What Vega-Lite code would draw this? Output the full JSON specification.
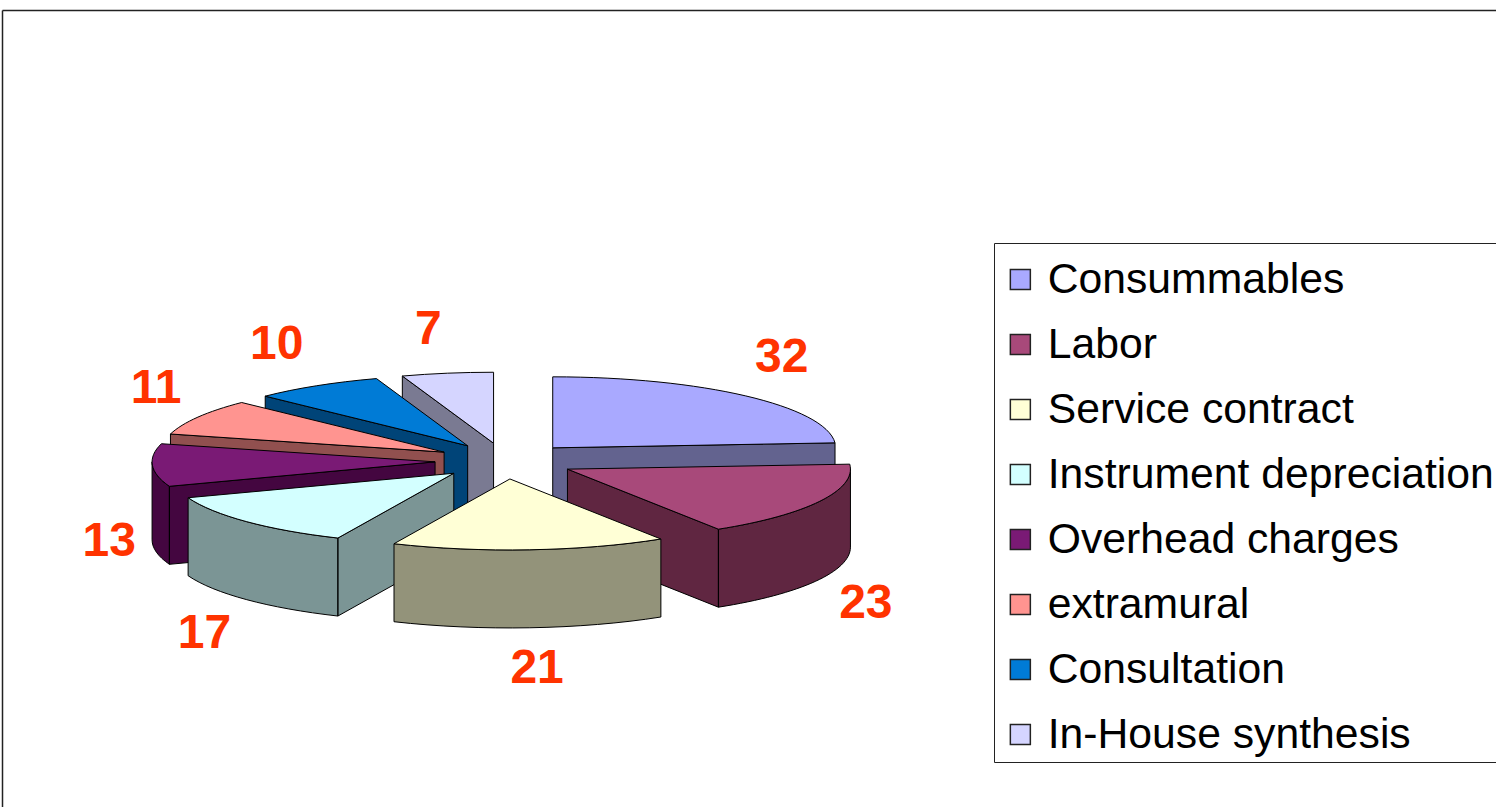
{
"$schema":"https://vega.github.io/schema/vega-lite/v6.json",
"width":1494,"height":797,
"autosize":{"type":"none"},
"padding":{"left":2,"top":10,"right":0,"bottom":0},
"background":"white",
"view":{"stroke":null},
"data":{"values":[
{"name":"Consummables","value":32},
{"name":"Labor","value":23},
{"name":"Service contract","value":21},
{"name":"Instrument depreciation","value":17},
{"name":"Overhead charges","value":13},
{"name":"extramural","value":11},
{"name":"Consultation","value":10},
{"name":"In-House synthesis","value":7}
]},
"transform":[
{"joinaggregate":[{"op":"sum","field":"value","as":"total"}]},
{"stack":"value","groupby":[],"as":["v0","v1"]},
{"calculate":"2*PI*datum.v0/datum.total","as":"a0"},
{"calculate":"2*PI*datum.v1/datum.total","as":"a1"},
{"calculate":"(datum.a0+datum.a1)/2","as":"mid"},
{"calculate":"datum.mid*180/PI","as":"deg"},
{"calculate":"cos(datum.mid)","as":"depth"},
{"calculate":"505+70*sin(datum.mid)","as":"px"},
{"calculate":"461-18*cos(datum.mid)","as":"py"},
{"calculate":"509+400*sin(datum.mid)-20*exp(-pow((datum.deg-335)/30,2))-12*exp(-pow((datum.deg-227)/15,2))","as":"lx"},
{"calculate":"499-170*datum.depth+35*pow(sin(datum.mid),2)*(datum.depth<0?1:-1)","as":"ly"},
{"calculate":"round(28300*sin(datum.a0))/100","as":"x0"},
{"calculate":"round(-7100*cos(datum.a0))/100","as":"y0"},
{"calculate":"round(28300*sin(datum.a1))/100","as":"x1"},
{"calculate":"round(-7100*cos(datum.a1))/100","as":"y1"},
{"calculate":"'M0,0L'+datum.x0+','+datum.y0+'A283,71,0,0,1,'+datum.x1+','+datum.y1+'Z'","as":"topPath"},
{"calculate":"sin(datum.a0)<-0.000001?'M0,0L'+datum.x0+','+datum.y0+'L'+datum.x0+','+(datum.y0+78)+'L0,78Z':(sin(datum.a1)>0.000001?'M0,0L'+datum.x1+','+datum.y1+'L'+datum.x1+','+(datum.y1+78)+'L0,78Z':'')","as":"edgePath"},
{"calculate":"max(datum.a0,PI/2)","as":"lo"},
{"calculate":"min(datum.a1,3*PI/2)","as":"hi"},
{"calculate":"round(28300*sin(datum.lo))/100","as":"xl"},
{"calculate":"round(-7100*cos(datum.lo))/100","as":"yl"},
{"calculate":"round(28300*sin(datum.hi))/100","as":"xh"},
{"calculate":"round(-7100*cos(datum.hi))/100","as":"yh"},
{"calculate":"datum.edgePath+(datum.lo<datum.hi?'M'+datum.xl+','+datum.yl+'A283,71,0,0,1,'+datum.xh+','+datum.yh+'L'+datum.xh+','+(datum.yh+78)+'A283,71,0,0,0,'+datum.xl+','+(datum.yl+78)+'Z':'')","as":"wallPath"}
],
"encoding":{
"x":{"type":"quantitative","scale":{"domain":[2,1496],"zero":false,"nice":false},
"axis":{"orient":"top","title":null,"labels":false,"ticks":false,"grid":false,"domain":true,"domainColor":"#222","domainWidth":1.5}},
"y":{"type":"quantitative","scale":{"domain":[10,807],"reverse":true,"zero":false,"nice":false},
"axis":{"orient":"left","title":null,"labels":false,"ticks":false,"grid":false,"domain":true,"domainColor":"#222","domainWidth":1.5}}
},
"layer":[
{"mark":{"type":"point","filled":true,"opacity":1,"stroke":"#000","strokeWidth":1,"size":4,"clip":false},
"encoding":{
"x":{"field":"px","type":"quantitative"},
"y":{"field":"py","type":"quantitative"},
"shape":{"field":"wallPath","type":"nominal","scale":null,"legend":null},
"order":{"field":"depth","sort":"descending"},
"color":{"field":"name","type":"nominal","sort":null,"legend":null,
"scale":{"domain":["Consummables","Labor","Service contract","Instrument depreciation","Overhead charges","extramural","Consultation","In-House synthesis"],
"range":["#63638F","#602641","#93937A","#7B9595","#440640","#91504F","#004478","#7A7A92"]}}
}},
{"mark":{"type":"point","filled":true,"opacity":1,"stroke":"#000","strokeWidth":1,"size":4,"clip":false},
"encoding":{
"x":{"field":"px","type":"quantitative"},
"y":{"field":"py","type":"quantitative"},
"shape":{"field":"topPath","type":"nominal","scale":null,"legend":null},
"order":{"field":"depth","sort":"descending"},
"color":{"field":"name","type":"nominal","sort":null,
"scale":{"domain":["Consummables","Labor","Service contract","Instrument depreciation","Overhead charges","extramural","Consultation","In-House synthesis"],
"range":["#A9A9FF","#A8497A","#FFFFD6","#D3FFFF","#7A1A75","#FF9490","#007BD6","#D5D5FF"]},
"legend":{"orient":"none","legendX":992,"legendY":233,"title":" ","titleFontSize":1,"titlePadding":10,"padding":5,"fillColor":"white","strokeColor":"#222","symbolType":"square","symbolSize":400,"symbolOffset":0,"symbolStrokeColor":"#222","symbolStrokeWidth":1.5,"labelFont":"Liberation Sans","labelFontSize":42.7,"labelColor":"#000","labelLimit":700,"labelOffset":6,"rowPadding":21,"clipHeight":41}}
}},
{"mark":{"type":"text","font":"Liberation Sans","fontWeight":"bold","fontSize":48,"color":"#FF3300","align":"center","baseline":"middle"},
"encoding":{
"x":{"field":"lx","type":"quantitative"},
"y":{"field":"ly","type":"quantitative"},
"text":{"field":"value","type":"quantitative"}
}}
],
"resolve":{"scale":{"color":"independent"}}
}
